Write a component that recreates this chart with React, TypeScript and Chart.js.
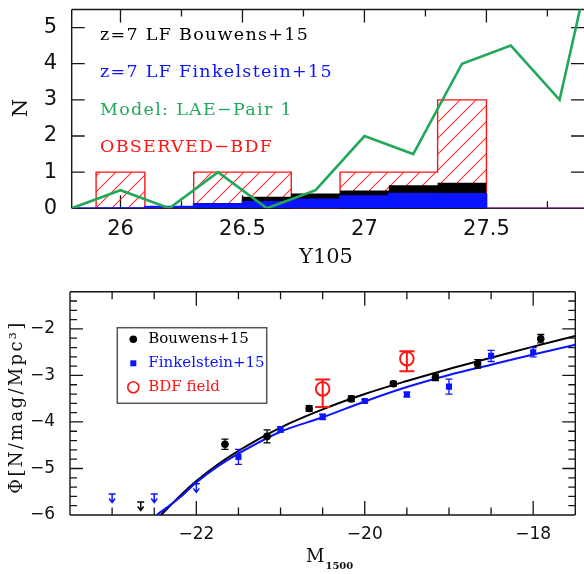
import React, { useEffect, useRef } from "react";
import { Chart, registerables } from "chart.js";
Chart.register(...registerables);

// ---------------- Top panel data ----------------
const binEdges = [25.9, 26.1, 26.3, 26.5, 26.7, 26.9, 27.1, 27.3, 27.5];
const bdfCounts = [1, 0, 1, 1, 0, 1, 1, 3];
const bouwensCounts = [0.01, 0.05, 0.15, 0.32, 0.41, 0.49, 0.64, 0.71];
const finkelsteinCounts = [0.01, 0.05, 0.12, 0.18, 0.25, 0.34, 0.41, 0.4];
const modelMag = [25.8, 26.0, 26.2, 26.4, 26.6, 26.8, 27.0, 27.2, 27.4, 27.6, 27.8, 28.0];
const modelCounts = [0, 0.5, 0, 1, 0, 0.5, 2, 1.5, 4, 4.5, 3, 9];
const topXTicks = [26, 26.5, 27, 27.5];
const topXMinor = [26.25, 26.75, 27.25, 27.75];
const topYTicks = [0, 1, 2, 3, 4, 5];
const topLegend = ["z=7 LF Bouwens+15", "z=7 LF Finkelstein+15", "Model: LAE\u2212Pair 1", "OBSERVED\u2212BDF"];

// ---------------- Bottom panel data ----------------
const bouwensMag = [-21.66, -21.16, -20.66, -20.16, -19.66, -19.16, -18.66, -17.91];
const bouwensPhi = [-4.48, -4.31, -3.71, -3.5, -3.18, -3.04, -2.75, -2.21];
const bouwensErr = [0.11, 0.14, 0.06, 0.06, 0.05, 0.07, 0.09, 0.09];
const bouwensLimMag = [-22.66];
const bouwensLimPhi = [-5.72];
const finkMag = [-21.5, -21.0, -20.5, -20.0, -19.5, -19.0, -18.5, -18.0];
const finkPhi = [-4.75, -4.16, -3.89, -3.55, -3.41, -3.24, -2.58, -2.5];
const finkErr = [0.16, 0.06, 0.06, 0.03, 0.05, 0.16, 0.12, 0.1];
const finkLimMag = [-23.0, -22.5, -22.0];
const finkLimPhi = [-5.55, -5.55, -5.33];
const bdfMag = [-20.5, -19.5];
const bdfPhi = [-3.29, -2.64];
const bdfErrHi = [0.2, 0.16];
const bdfErrLo = [0.39, 0.27];
const bouwensFitMag = [-22.42, -22.2, -22.0, -21.75, -21.5, -21.0, -20.5, -20.0, -19.5, -19.0, -18.5, -18.0, -17.5];
const bouwensFitPhi = [-6.0, -5.6, -5.27, -4.92, -4.62, -4.12, -3.73, -3.4, -3.12, -2.86, -2.62, -2.38, -2.15];
const finkFitMag = [-22.47, -22.2, -22.0, -21.75, -21.5, -21.0, -20.5, -20.0, -19.5, -19.0, -18.5, -18.0, -17.5];
const finkFitPhi = [-6.0, -5.63, -5.3, -4.96, -4.68, -4.21, -3.9, -3.56, -3.25, -2.99, -2.77, -2.55, -2.34];
const botXTicks = [-22, -20, -18];
const botYTicks = [-2, -3, -4, -5, -6];
const botLegend = ["Bouwens+15", "Finkelstein+15", "BDF field"];

const RED = "#ff1414";
const BLUE = "#0a14ff";
const GREEN = "#22a85a";
const BLACK = "#000000";
const PURPLE = "#b02cb0";
const FRAME = "#151515";
const TOP_H = 270;
const BOT_H = 304;
const BOT_OFF = 270;

function stepPoints(edges: number[], vals: number[], start?: number, end?: number) {
  const pts: { x: number; y: number }[] = [];
  pts.push({ x: start ?? edges[0], y: 0 });
  for (let i = 0; i < vals.length; i++) pts.push({ x: edges[i], y: vals[i] });
  pts.push({ x: edges[edges.length - 1], y: 0 });
  if (end !== undefined) pts.push({ x: end, y: 0 });
  return pts;
}

function makeHatch(): CanvasPattern | string {
  const s = 16;
  const c = document.createElement("canvas");
  c.width = s;
  c.height = s;
  const g = c.getContext("2d");
  if (!g) return "rgba(255,0,0,0.2)";
  g.strokeStyle = "rgba(255,20,20,0.9)";
  g.lineWidth = 1.05;
  g.beginPath();
  for (let k = -1; k <= 1; k++) {
    g.moveTo(k * s - 2, s + 2);
    g.lineTo(k * s + s + 2, -2);
  }
  g.stroke();
  const p = g.createPattern(c, "repeat");
  return p ?? "rgba(255,0,0,0.2)";
}

function rangeSteps(a: number, b: number, step: number) {
  const out: number[] = [];
  const n = Math.round((b - a) / step);
  for (let i = 0; i <= n; i++) out.push(+(a + i * step).toFixed(4));
  return out;
}

function drawTicks(
  chart: any,
  xMajor: number[],
  xMinor: number[],
  yMajor: number[],
  yMinor: number[],
  majorLen: number,
  minorLen: number,
  xMajLen: number,
  xMinLen: number,
  drawRightLine: boolean
) {
  const { ctx, chartArea: a, scales } = chart;
  const xs = scales.x;
  const ys = scales.y;
  ctx.save();
  ctx.strokeStyle = FRAME;
  ctx.lineWidth = 1.4;
  ctx.beginPath();
  ctx.moveTo(a.left, a.top);
  ctx.lineTo(a.left, a.bottom);
  ctx.moveTo(a.left, a.bottom);
  ctx.lineTo(a.right, a.bottom);
  ctx.moveTo(a.left, a.top);
  ctx.lineTo(a.right, a.top);
  if (drawRightLine) {
    ctx.moveTo(a.right, a.top);
    ctx.lineTo(a.right, a.bottom);
  }
  ctx.stroke();
  ctx.lineWidth = 1.3;
  ctx.beginPath();
  const xt = (v: number, len: number) => {
    const px = xs.getPixelForValue(v);
    if (px < a.left + 1 || px > a.right - 1) return;
    ctx.moveTo(px, a.bottom);
    ctx.lineTo(px, a.bottom - len);
    ctx.moveTo(px, a.top);
    ctx.lineTo(px, a.top + len);
  };
  const yt = (v: number, len: number) => {
    const py = ys.getPixelForValue(v);
    if (py < a.top + 1 || py > a.bottom - 1) return;
    ctx.moveTo(a.left, py);
    ctx.lineTo(a.left + len, py);
    ctx.moveTo(a.right, py);
    ctx.lineTo(a.right - len, py);
  };
  xMajor.forEach((v) => xt(v, xMajLen));
  xMinor.forEach((v) => xt(v, xMinLen));
  yMajor.forEach((v) => yt(v, majorLen));
  yMinor.forEach((v) => yt(v, minorLen));
  ctx.stroke();
  ctx.restore();
}

function setSpacing(ctx: any, px: number) {
  try {
    ctx.letterSpacing = px + "px";
  } catch (e) {
    /* ignore */
  }
}

const topDecor = {
  id: "topDecor",
  beforeDatasetsDraw(chart: any) {
    drawTicks(chart, topXTicks, topXMinor, topYTicks, [], 13, 7, 13, 7, false);
  },
  afterDraw(chart: any) {
    const { ctx, scales } = chart;
    const xs = scales.x;
    const ys = scales.y;
    ctx.save();
    ctx.fillStyle = "#111";
    ctx.font = "21px 'DejaVu Sans'";
    ctx.textAlign = "center";
    ctx.textBaseline = "middle";
    topXTicks.forEach((v) => ctx.fillText(String(v), xs.getPixelForValue(v), 230));
    ctx.textAlign = "right";
    topYTicks.forEach((v) => ctx.fillText(String(v), 57, ys.getPixelForValue(v)));
    // axis titles
    ctx.font = "21px 'DejaVu Serif'";
    ctx.textAlign = "center";
    ctx.fillText("Y105", 326, 258);
    ctx.save();
    ctx.translate(22, 108);
    ctx.rotate(-Math.PI / 2);
    ctx.fillText("N", 0, 0);
    ctx.restore();
    // legend text
    const cols = [BLACK, BLUE, GREEN, RED];
    const ys2 = [35, 72, 110, 147];
    ctx.font = "17.5px 'DejaVu Serif'";
    ctx.textAlign = "left";
    setSpacing(ctx, 1.3);
    topLegend.forEach((t, i) => {
      ctx.fillStyle = cols[i];
      ctx.fillText(t, 100, ys2[i]);
    });
    setSpacing(ctx, 0);
    ctx.restore();
  },
};

const botDecor = {
  id: "botDecor",
  beforeDatasetsDraw(chart: any) {
    const xMinor = rangeSteps(-23.5, -17.5, 0.5).filter((v) => !botXTicks.includes(v));
    const yMinor = rangeSteps(-6, -1.2, 0.2).filter((v) => Math.abs(v - Math.round(v)) > 0.01);
    drawTicks(chart, botXTicks, xMinor, botYTicks, yMinor, 13, 7, 14, 7.5, true);
  },
  afterDatasetsDraw(chart: any) {
    const { ctx, scales } = chart;
    const xs = scales.x;
    const ys = scales.y;
    ctx.save();
    const bars = (mag: number[], phi: number[], lo: number[], hi: number[], col: string, cap: number, lw: number) => {
      ctx.strokeStyle = col;
      ctx.lineWidth = lw;
      ctx.beginPath();
      mag.forEach((m, i) => {
        const px = xs.getPixelForValue(m);
        const y1 = ys.getPixelForValue(phi[i] + hi[i]);
        const y0 = ys.getPixelForValue(phi[i] - lo[i]);
        ctx.moveTo(px, y0);
        ctx.lineTo(px, y1);
        ctx.moveTo(px - cap / 2, y0);
        ctx.lineTo(px + cap / 2, y0);
        ctx.moveTo(px - cap / 2, y1);
        ctx.lineTo(px + cap / 2, y1);
      });
      ctx.stroke();
    };
    bars(bouwensMag, bouwensPhi, bouwensErr, bouwensErr, BLACK, 7, 1.3);
    bars(finkMag, finkPhi, finkErr, finkErr, BLUE, 7, 1.3);
    bars(bdfMag, bdfPhi, bdfErrLo, bdfErrHi, RED, 15, 2);
    const limits = (mag: number[], phi: number[], col: string) => {
      ctx.strokeStyle = col;
      ctx.lineWidth = 1.5;
      ctx.beginPath();
      mag.forEach((m, i) => {
        const px = xs.getPixelForValue(m);
        const py = ys.getPixelForValue(phi[i]);
        ctx.moveTo(px - 3.5, py);
        ctx.lineTo(px + 3.5, py);
        ctx.moveTo(px, py);
        ctx.lineTo(px, py + 8.5);
        ctx.moveTo(px - 3, py + 4.5);
        ctx.lineTo(px, py + 8.5);
        ctx.lineTo(px + 3, py + 4.5);
      });
      ctx.stroke();
    };
    limits(finkLimMag, finkLimPhi, BLUE);
    limits(bouwensLimMag, bouwensLimPhi, BLACK);
    ctx.restore();
  },
  afterDraw(chart: any) {
    const { ctx, scales } = chart;
    const xs = scales.x;
    const ys = scales.y;
    ctx.save();
    ctx.fillStyle = "#111";
    ctx.font = "17px 'DejaVu Sans'";
    ctx.textAlign = "center";
    ctx.textBaseline = "middle";
    const fmt = (v: number) => String(v).replace("-", "\u2212");
    botXTicks.forEach((v) => ctx.fillText(fmt(v), xs.getPixelForValue(v), 535 - BOT_OFF));
    ctx.textAlign = "right";
    botYTicks.forEach((v) => ctx.fillText(fmt(v), 55, ys.getPixelForValue(v)));
    // x title
    ctx.textAlign = "left";
    ctx.font = "18px 'DejaVu Serif'";
    ctx.fillText("M", 306, 557 - BOT_OFF);
    const mw = ctx.measureText("M").width;
    ctx.font = "bold 10px 'DejaVu Serif'";
    ctx.fillText("1500", 306 + mw + 1, 566 - BOT_OFF);
    // y title
    ctx.save();
    ctx.translate(17, 407 - BOT_OFF);
    ctx.rotate(-Math.PI / 2);
    ctx.font = "18px 'DejaVu Serif'";
    ctx.textAlign = "center";
    const title = "\u03a6[N/mag/Mpc\u00b3]";
    const w0 = ctx.measureText(title).width;
    const extra = Math.max(0, (171 - w0) / (title.length - 1));
    setSpacing(ctx, extra);
    ctx.fillText(title, 0, 0);
    setSpacing(ctx, 0);
    ctx.restore();
    // legend box
    const bx = 117.3, by = 327.7 - BOT_OFF, bw = 149.4, bh = 75.6;
    ctx.strokeStyle = "#555";
    ctx.lineWidth = 1.5;
    ctx.strokeRect(bx, by, bw, bh);
    const sx = 133.3;
    const rows = [339.3 - BOT_OFF, 363.3 - BOT_OFF, 387.3 - BOT_OFF];
    ctx.fillStyle = BLACK;
    ctx.beginPath();
    ctx.arc(sx, rows[0], 3.8, 0, Math.PI * 2);
    ctx.fill();
    ctx.fillStyle = BLUE;
    ctx.fillRect(sx - 3, rows[1] - 3, 6, 6);
    ctx.strokeStyle = RED;
    ctx.lineWidth = 1.6;
    ctx.beginPath();
    ctx.arc(sx, rows[2], 5.5, 0, Math.PI * 2);
    ctx.stroke();
    ctx.font = "15px 'DejaVu Serif'";
    ctx.textAlign = "left";
    const lc = [BLACK, BLUE, RED];
    botLegend.forEach((t, i) => {
      ctx.fillStyle = lc[i];
      ctx.fillText(t, 148.3, rows[i]);
    });
    ctx.restore();
  },
};

function topConfig(): any {
  const hatch = makeHatch();
  return {
    type: "line",
    data: {
      datasets: [
        {
          label: "Model: LAE-Pair 1",
          data: modelMag.map((x, i) => ({ x, y: modelCounts[i] })),
          borderColor: GREEN,
          borderWidth: 2.6,
          pointRadius: 0,
          fill: false,
          tension: 0,
          order: 0,
        },
        {
          label: "z=7 LF Finkelstein+15",
          data: stepPoints(binEdges, finkelsteinCounts, 25.8),
          stepped: "before",
          borderColor: BLUE,
          borderWidth: 1.6,
          backgroundColor: BLUE,
          fill: "origin",
          pointRadius: 0,
          order: 1,
        },
        {
          label: "z=7 LF Bouwens+15",
          data: stepPoints(binEdges, bouwensCounts),
          stepped: "before",
          borderColor: BLACK,
          borderWidth: 0,
          backgroundColor: BLACK,
          fill: "origin",
          pointRadius: 0,
          order: 2,
        },
        {
          label: "OBSERVED-BDF",
          data: stepPoints(binEdges, bdfCounts, undefined, 27.9),
          stepped: "before",
          borderColor: RED,
          borderWidth: 1.4,
          backgroundColor: hatch,
          fill: "origin",
          pointRadius: 0,
          order: 3,
          segment: {
            borderColor: (c: any) => (c.p0.parsed.x >= 27.5 - 1e-6 && c.p1.parsed.y === 0 && c.p0.parsed.y === 0 ? PURPLE : RED),
          },
        },
      ],
    },
    options: {
      responsive: false,
      animation: false,
      devicePixelRatio: 1,
      events: [],
      layout: { padding: { top: 9.5, right: 0, left: 0, bottom: 0 } },
      plugins: { legend: { display: false }, tooltip: { enabled: false } },
      scales: {
        x: {
          type: "linear",
          min: 25.8,
          max: 27.9,
          grid: { display: false },
          border: { display: false },
          ticks: { display: false },
          afterFit: (s: any) => {
            s.height = TOP_H - 208.3;
          },
        },
        y: {
          type: "linear",
          min: 0,
          max: 5.5,
          grid: { display: false },
          border: { display: false },
          ticks: { display: false },
          afterFit: (s: any) => {
            s.width = 71.7;
          },
        },
      },
    },
    plugins: [topDecor],
  };
}

function botConfig(): any {
  return {
    type: "scatter",
    data: {
      datasets: [
        {
          label: "Bouwens+15",
          data: bouwensMag.map((x, i) => ({ x, y: bouwensPhi[i] })),
          pointStyle: "circle",
          pointRadius: 3.8,
          backgroundColor: BLACK,
          borderColor: BLACK,
          borderWidth: 0,
          order: 1,
        },
        {
          label: "Finkelstein+15",
          data: finkMag.map((x, i) => ({ x, y: finkPhi[i] })),
          pointStyle: "rect",
          pointRadius: 4.3,
          backgroundColor: BLUE,
          borderColor: BLUE,
          borderWidth: 0,
          order: 1,
        },
        {
          label: "BDF field",
          data: bdfMag.map((x, i) => ({ x, y: bdfPhi[i] })),
          pointStyle: "circle",
          pointRadius: 6.8,
          backgroundColor: "rgba(0,0,0,0)",
          borderColor: RED,
          borderWidth: 1.9,
          order: 1,
        },
        {
          label: "Bouwens fit",
          data: bouwensFitMag.map((x, i) => ({ x, y: bouwensFitPhi[i] })),
          showLine: true,
          borderColor: BLACK,
          borderWidth: 2,
          pointRadius: 0,
          cubicInterpolationMode: "monotone",
          order: 5,
        },
        {
          label: "Finkelstein fit",
          data: finkFitMag.map((x, i) => ({ x, y: finkFitPhi[i] })),
          showLine: true,
          borderColor: BLUE,
          borderWidth: 2,
          pointRadius: 0,
          cubicInterpolationMode: "monotone",
          order: 4,
        },
      ],
    },
    options: {
      responsive: false,
      animation: false,
      devicePixelRatio: 1,
      events: [],
      layout: { padding: { top: 291.7 - BOT_OFF, right: 0, left: 0, bottom: 0 } },
      plugins: { legend: { display: false }, tooltip: { enabled: false } },
      scales: {
        x: {
          type: "linear",
          min: -23.5,
          max: -17.5,
          grid: { display: false },
          border: { display: false },
          ticks: { display: false },
          afterFit: (s: any) => {
            s.height = BOT_H - (515 - BOT_OFF);
          },
        },
        y: {
          type: "linear",
          min: -6,
          max: -1.2,
          grid: { display: false },
          border: { display: false },
          ticks: { display: false },
          afterFit: (s: any) => {
            s.width = 70;
          },
        },
      },
    },
    plugins: [botDecor],
  };
}

export default function App() {
  const topRef = useRef<HTMLCanvasElement>(null);
  const botRef = useRef<HTMLCanvasElement>(null);
  useEffect(() => {
    const c1 = new Chart(topRef.current as HTMLCanvasElement, topConfig());
    const c2 = new Chart(botRef.current as HTMLCanvasElement, botConfig());
    return () => {
      c1.destroy();
      c2.destroy();
    };
  }, []);
  return (
    <div style={{ position: "absolute", left: 0, top: 0, width: 584, height: 574, background: "#fff" }}>
      <canvas
        ref={topRef}
        width={584}
        height={TOP_H}
        style={{ position: "absolute", left: 0, top: 0, width: 584, height: TOP_H }}
      />
      <canvas
        ref={botRef}
        width={584}
        height={BOT_H}
        style={{ position: "absolute", left: 0, top: BOT_OFF, width: 584, height: BOT_H }}
      />
    </div>
  );
}
